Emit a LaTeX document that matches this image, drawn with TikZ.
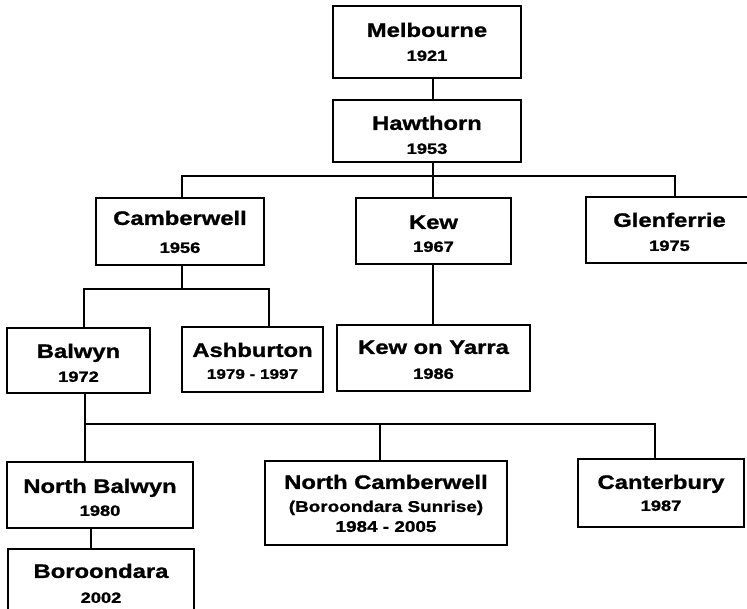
\documentclass[tikz,border=0pt]{standalone}
\usepackage{fontspec}
\newfontfamily\lbl{Liberation Sans}[FakeStretch=1.22, BoldFeatures={FakeBold=1.2}]
\newcommand\ttl[1]{{\fontsize{19.5}{20}\selectfont #1}}
\newcommand\smy[1]{{\fontsize{14}{20}\selectfont #1}}
\newcommand\mdy[1]{{\fontsize{15.5}{20}\selectfont #1}}
\begin{document}
\begin{tikzpicture}[x=1pt,y=-1pt,
  box/.style={draw, line width=1.8pt, inner xsep=0pt, inner ysep=0pt,
    align=center, anchor=north, font=\lbl\bfseries\fontsize{15}{20}\selectfont},
  conn/.style={line width=1.8pt}]
\useasboundingbox (0,0) rectangle (747,609);
% boxes
\node[box, minimum width=188pt, text height=55pt, text depth=17pt] (mel) at (427,5) {\ttl{Melbourne}\\[4pt]1921};
\node[box, minimum width=188pt, text height=54pt, text depth=8pt] (haw) at (427,99) {\ttl{Hawthorn}\\[4pt]1953};
\node[box, minimum width=168pt, text height=55pt, text depth=12pt] (cam) at (180,197) {\ttl{Camberwell}\\[8pt]1956};
\node[box, minimum width=155pt, text height=54pt, text depth=12pt] (kew) at (433.5,197) {\ttl{Kew}\\[3pt]1967};
\node[box, minimum width=167pt, text height=54pt, text depth=12pt] (glen) at (669.5,196) {\ttl{Glenferrie}\\[4pt]1975};
\node[box, minimum width=143pt, text height=54pt, text depth=11pt] (bal) at (78.5,327) {\ttl{Balwyn}\\[4pt]1972};
\node[box, minimum width=141pt, text height=52pt, text depth=13pt] (ash) at (252.5,326) {\ttl{Ashburton}\\[2pt]\smy{1979 - 1997}};
\node[box, minimum width=193pt, text height=54pt, text depth=12pt] (kyar) at (433.5,324) {\ttl{Kew on Yarra}\\[5pt]1986};
\node[box, minimum width=186pt, text height=54pt, text depth=12pt] (nbal) at (100,461) {\ttl{North Balwyn}\\[3pt]1980};
\node[box, minimum width=242pt, text height=71pt, text depth=13pt] (ncam) at (386,460) {\ttl{North Camberwell}\\[3pt]\mdy{(Boroondara Sunrise)}\\\mdy{1984 - 2005}};
\node[box, minimum width=166pt, text height=52pt, text depth=16pt] (cant) at (661,458) {\ttl{Canterbury}\\[2pt]1987};
\node[box, minimum width=186pt, text height=54pt, text depth=15pt] (bor) at (101,548) {\ttl{Boroondara}\\[5pt]2002};
% connector guides
\coordinate (xA) at (433,0);
\coordinate (xCam) at (182,0);
\coordinate (xGlen) at (675,0);
\coordinate (xBal) at (84,0);
\coordinate (xAsh) at (269,0);
\coordinate (xB2) at (85,0);
\coordinate (xNC) at (380,0);
\coordinate (xCant) at (655,0);
\coordinate (xBor) at (91,0);
\coordinate (bus1) at (0,176);
\coordinate (bus2) at (0,289);
\coordinate (bus3) at (0,424);
% connectors
\draw[conn] (mel.south -| xA) -- (haw.north -| xA);
\draw[conn] (haw.south -| xA) -- (kew.north -| xA);
\draw[conn] (cam.north -| xCam) -- (bus1 -| xCam) -- (bus1 -| xGlen) -- (glen.north -| xGlen);
\draw[conn] (kew.south -| xA) -- (kyar.north -| xA);
\draw[conn] (cam.south -| xCam) -- (bus2 -| xCam);
\draw[conn] (bal.north -| xBal) -- (bus2 -| xBal) -- (bus2 -| xAsh) -- (ash.north -| xAsh);
\draw[conn] (bal.south -| xB2) -- (nbal.north -| xB2);
\draw[conn] (bus3 -| xB2) -- (bus3 -| xCant) -- (cant.north -| xCant);
\draw[conn] (bus3 -| xNC) -- (ncam.north -| xNC);
\draw[conn] (nbal.south -| xBor) -- (bor.north -| xBor);
\end{tikzpicture}
\end{document}
